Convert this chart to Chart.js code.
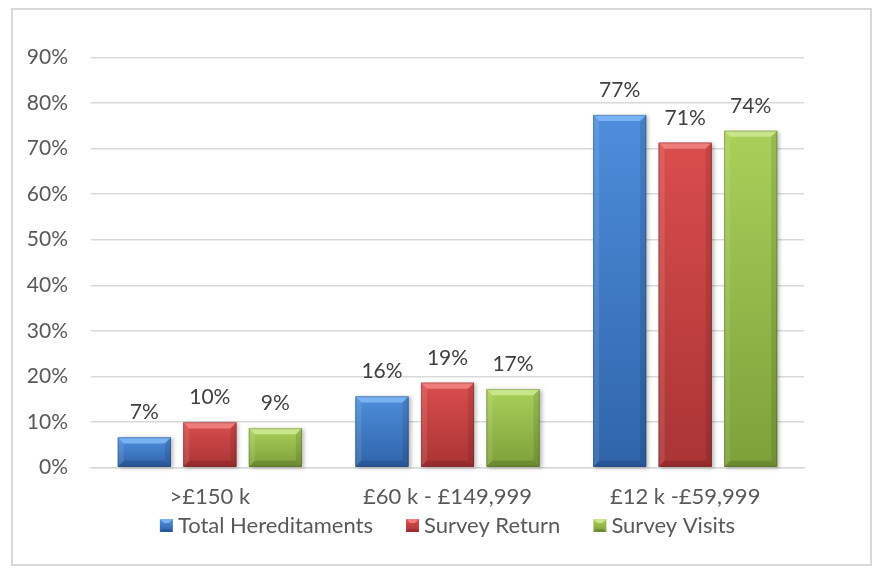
<!DOCTYPE html>
<html lang="en">
<head>
<meta charset="UTF-8">
<title>Hereditaments by rateable value</title>
<script src="https://cdn.jsdelivr.net/npm/chart.js"></script>
<style>
  html, body { margin: 0; padding: 0; background: #fff; }
  #moldura { position: absolute; left: 11px; top: 8px; width: 861px; height: 558px; box-sizing: border-box; border: 2px solid #d9d9d9; }
  #grafico { position: absolute; left: 0; top: 0; }
</style>
</head>
<body>
<div id="moldura"></div>
<canvas id="grafico" width="888" height="573"></canvas>
<script>
// dados
const categorias = ['>£150 k', '£60 k - £149,999', '£12 k -£59,999'];
const nomesSeries = ['Total Hereditaments', 'Survey Return', 'Survey Visits'];
const totalHereditaments = [6.6, 15.6, 77.4];
const surveyReturn = [9.9, 18.6, 71.3];
const surveyVisits = [8.6, 17.2, 73.9];
const eixoMax = 90;
const eixoPasso = 10;

// cores com efeito de chanfro (topo claro, base escura)
const cores = [
  { face: '#3f7ccc', topo: '#4e8edc', base: '#2f64aa', luz: '#78b2f2', sombra: 'rgba(20,50,100,0.28)' },
  { face: '#cc3f3f', topo: '#da4d4d', base: '#aa3434', luz: '#ef7c7c', sombra: 'rgba(100,20,20,0.28)' },
  { face: '#96bd48', topo: '#aad05a', base: '#7ea03a', luz: '#c9e68a', sombra: 'rgba(60,80,20,0.28)' }
];

Chart.defaults.font.family = 'Lato';
Chart.defaults.color = '#595959';

function poligono(ctx, pts, cor) {
  ctx.beginPath();
  ctx.moveTo(pts[0][0], pts[0][1]);
  for (let k = 1; k < pts.length; k++) ctx.lineTo(pts[k][0], pts[k][1]);
  ctx.closePath();
  ctx.fillStyle = cor;
  ctx.fill();
}

// pinta o chanfro por cima das barras e escreve os rótulos de valor
const chanfro = {
  id: 'chanfro',
  afterDatasetsDraw(chart) {
    const ctx = chart.ctx;
    chart.data.datasets.forEach((ds, i) => {
      const c = cores[i];
      chart.getDatasetMeta(i).data.forEach(bar => {
        const l = bar.x - bar.width / 2, r = bar.x + bar.width / 2;
        const t = bar.y, b = bar.base, h = b - t;
        const bv = Math.min(6, h / 3);
        ctx.save();
        ctx.shadowColor = 'rgba(0,0,0,0.28)';
        ctx.shadowBlur = 4;
        ctx.shadowOffsetX = 2;
        ctx.shadowOffsetY = 1;
        const g = ctx.createLinearGradient(0, t, 0, b);
        g.addColorStop(0, c.topo);
        g.addColorStop(1, c.base);
        ctx.fillStyle = g;
        ctx.fillRect(l, t, r - l, h);
        ctx.shadowColor = 'transparent';
        poligono(ctx, [[l, t], [r, t], [r - bv, t + bv], [l + bv, t + bv]], c.luz);
        poligono(ctx, [[l, t], [l + bv, t + bv], [l + bv, b - bv], [l, b]], 'rgba(255,255,255,0.10)');
        poligono(ctx, [[r, t], [r - bv, t + bv], [r - bv, b - bv], [r, b]], 'rgba(0,0,0,0.10)');
        poligono(ctx, [[l, b], [r, b], [r - bv, b - bv], [l + bv, b - bv]], c.sombra);
        ctx.strokeStyle = 'rgba(0,0,0,0.18)';
        ctx.lineWidth = 1;
        ctx.strokeRect(l + 0.5, t + 0.5, r - l - 1, h - 1);
        ctx.restore();
      });
    });

    ctx.save();
    ctx.font = '21px Lato';
    ctx.fillStyle = '#404040';
    ctx.textAlign = 'center';
    ctx.textBaseline = 'alphabetic';
    chart.data.datasets.forEach((ds, i) => {
      chart.getDatasetMeta(i).data.forEach((bar, j) => {
        ctx.fillText(Math.round(ds.data[j]) + '%', bar.x, bar.y - 18);
      });
    });
    ctx.restore();
  }
};

// legenda desenhada à mão, com quadradinhos chanfrados
const legenda = {
  id: 'legenda',
  afterDraw(chart) {
    const ctx = chart.ctx;
    ctx.save();
    ctx.font = '22px Lato';
    const caixa = 13, gapTexto = 5, gapItem = 33;
    const larguras = nomesSeries.map(n => ctx.measureText(n).width);
    let total = 0;
    larguras.forEach((w, i) => { total += caixa + gapTexto + w + (i < larguras.length - 1 ? gapItem : 0); });
    const area = chart.chartArea;
    let x = (area.left + area.right) / 2 - total / 2;
    const yBase = 533;
    nomesSeries.forEach((nome, i) => {
      const c = cores[i];
      const t = yBase - caixa - 1, l = x, r = x + caixa, b = yBase - 1;
      const g = ctx.createLinearGradient(0, t, 0, b);
      g.addColorStop(0, c.topo);
      g.addColorStop(1, c.base);
      ctx.fillStyle = g;
      ctx.fillRect(l, t, caixa, caixa);
      poligono(ctx, [[l, t], [r, t], [r - 4, t + 4], [l + 4, t + 4]], c.luz);
      poligono(ctx, [[l, b], [r, b], [r - 3, b - 3], [l + 3, b - 3]], c.sombra);
      ctx.fillStyle = '#595959';
      ctx.textBaseline = 'alphabetic';
      ctx.fillText(nome, x + caixa + gapTexto, yBase);
      x += caixa + gapTexto + larguras[i] + gapItem;
    });
    ctx.restore();
  }
};

new Chart(document.getElementById('grafico'), {
  type: 'bar',
  data: {
    labels: categorias,
    datasets: [
      { label: nomesSeries[0], data: totalHereditaments, backgroundColor: cores[0].face },
      { label: nomesSeries[1], data: surveyReturn, backgroundColor: cores[1].face },
      { label: nomesSeries[2], data: surveyVisits, backgroundColor: cores[2].face }
    ]
  },
  options: {
    responsive: false,
    devicePixelRatio: 1,
    animation: false,
    categoryPercentage: 0.827,
    barPercentage: 0.81,
    layout: { padding: { top: 57.5, right: 84, bottom: 65.5, left: 0 } },
    plugins: {
      legend: { display: false },
      tooltip: { enabled: false }
    },
    scales: {
      x: {
        grid: { display: false, drawTicks: false },
        border: { display: true, color: '#d9d9d9', width: 1.5 },
        ticks: { font: { size: 22 }, padding: 16, color: '#595959' },
        afterFit(scale) { scale.height = 40; }
      },
      y: {
        min: 0,
        max: eixoMax,
        grid: { color: '#d9d9d9', lineWidth: 1.5, drawTicks: false },
        border: { display: false },
        ticks: {
          stepSize: eixoPasso,
          padding: 23,
          font: { size: 21 },
          color: '#595959',
          callback: v => v + '%'
        },
        afterFit(scale) { scale.width = 91; }
      }
    }
  },
  plugins: [chanfro, legenda]
});
</script>
</body>
</html>
